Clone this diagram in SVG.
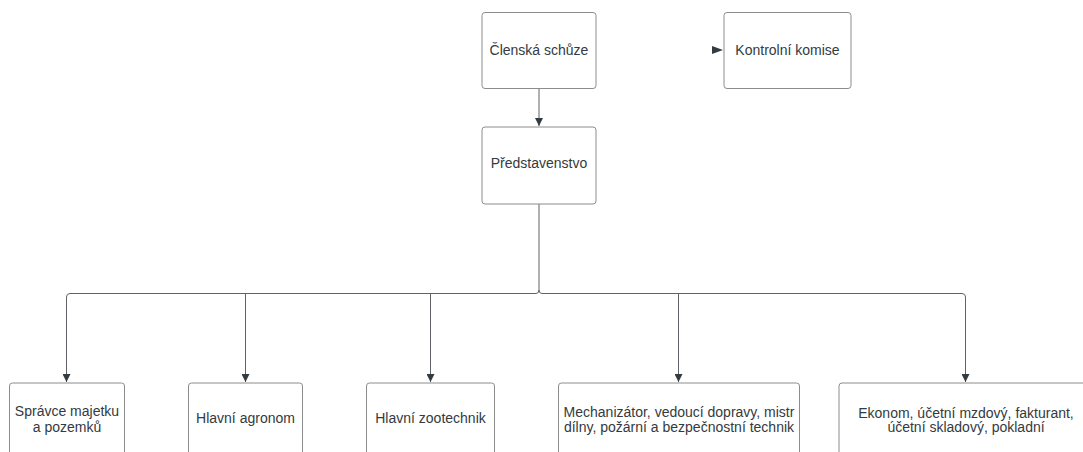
<svg xmlns="http://www.w3.org/2000/svg" width="1083" height="452" viewBox="0 0 1083 452">
<defs>
<style>
.box{fill:#ffffff;stroke:#8c8c8c;stroke-width:1}
.t{font-family:"Liberation Sans",Arial,sans-serif;font-size:14px;fill:#333a40;text-anchor:middle}
.c{fill:none;stroke:#5f6368;stroke-width:1}
</style>
<marker id="ah" viewBox="0 0 10 10" refX="10" refY="5" markerWidth="8" markerHeight="8" markerUnits="userSpaceOnUse" orient="auto">
<path d="M0,0 L10,5 L0,10 Z" fill="#333a40"/>
</marker>
</defs>
<rect width="1083" height="452" fill="#ffffff"/>
<g id="connectors">
<path class="c" d="M539,88 V126" marker-end="url(#ah)"/>
<path class="c" d="M539,204 V290 Q539,293.5 536,293.5 H70 Q66.5,293.5 66.5,297 V382" marker-end="url(#ah)"/>
<path class="c" d="M539,290 Q539,293.5 542,293.5 H962 Q965.5,293.5 965.5,297 V382" marker-end="url(#ah)"/>
<path class="c" d="M245.5,293.5 V382" marker-end="url(#ah)"/>
<path class="c" d="M430.5,293.5 V382" marker-end="url(#ah)"/>
<path class="c" d="M678.5,293.5 V382" marker-end="url(#ah)"/>
<polygon points="712,46 723,50 712,54" fill="#333a40"/>
</g>
<g id="clenska-schuze">
<rect class="box" x="482" y="12.5" width="114" height="76" rx="3"/>
<text class="t" x="539" y="55">Členská schůze</text>
</g>
<g id="kontrolni-komise">
<rect class="box" x="724" y="12.5" width="127" height="76" rx="3"/>
<text class="t" x="787.5" y="55">Kontrolní komise</text>
</g>
<g id="predstavenstvo">
<rect class="box" x="482" y="127" width="114" height="77" rx="3"/>
<text class="t" x="539" y="168">Představenstvo</text>
</g>
<g id="spravce">
<rect class="box" x="9.5" y="383" width="115" height="90" rx="3"/>
<text class="t" x="67" y="415.5">Správce majetku</text>
<text class="t" x="67" y="431.5">a pozemků</text>
</g>
<g id="agronom">
<rect class="box" x="188.5" y="383" width="114" height="90" rx="3"/>
<text class="t" x="245.5" y="423">Hlavní agronom</text>
</g>
<g id="zootechnik">
<rect class="box" x="366.5" y="383" width="128" height="90" rx="3"/>
<text class="t" x="430.5" y="423">Hlavní zootechnik</text>
</g>
<g id="mechanizator">
<rect class="box" x="558.5" y="383" width="241" height="90" rx="3"/>
<text class="t" x="679" y="416.5">Mechanizátor, vedoucí dopravy, mistr</text>
<text class="t" x="679" y="431.5">dílny, požární a bezpečnostní technik</text>
</g>
<g id="ekonom">
<rect class="box" x="839" y="383" width="254" height="90" rx="3"/>
<text class="t" x="966" y="417.5">Ekonom, účetní mzdový, fakturant,</text>
<text class="t" x="966" y="432">účetní skladový, pokladní</text>
</g>
</svg>
